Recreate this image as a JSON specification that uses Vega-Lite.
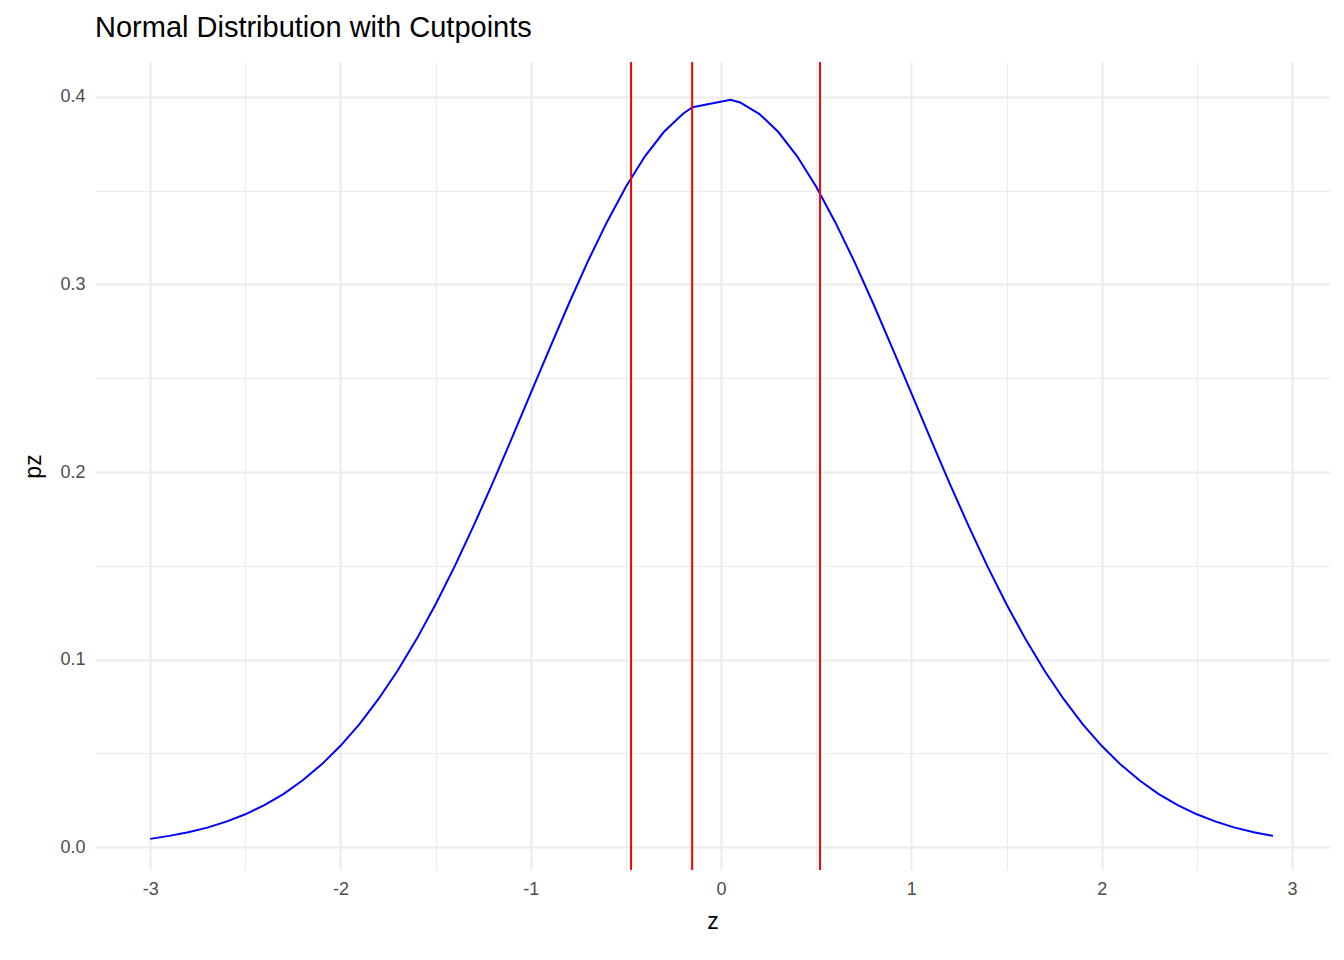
{
  "$schema": "https://vega.github.io/schema/vega-lite/v6.json",
  "autosize": "none",
  "padding": {"left": 95, "top": 62, "right": 14, "bottom": 90},
  "width": 1235,
  "height": 808,
  "title": {"text": "Normal Distribution with Cutpoints", "anchor": "start", "frame": "group", "fontSize": 29, "fontWeight": "normal", "font": "Liberation Sans", "color": "black", "offset": 18},
  "datasets": {
    "curve": [
      {"z": -3.0, "pz": 0.0044}, {"z": -2.9, "pz": 0.0060}, {"z": -2.8, "pz": 0.0079}, {"z": -2.7, "pz": 0.0104},
      {"z": -2.6, "pz": 0.0136}, {"z": -2.5, "pz": 0.0175}, {"z": -2.4, "pz": 0.0224}, {"z": -2.3, "pz": 0.0283},
      {"z": -2.2, "pz": 0.0355}, {"z": -2.1, "pz": 0.0440}, {"z": -2.0, "pz": 0.0540}, {"z": -1.9, "pz": 0.0656},
      {"z": -1.8, "pz": 0.0790}, {"z": -1.7, "pz": 0.0940}, {"z": -1.6, "pz": 0.1109}, {"z": -1.5, "pz": 0.1295},
      {"z": -1.4, "pz": 0.1497}, {"z": -1.3, "pz": 0.1714}, {"z": -1.2, "pz": 0.1942}, {"z": -1.1, "pz": 0.2179},
      {"z": -1.0, "pz": 0.2420}, {"z": -0.9, "pz": 0.2661}, {"z": -0.8, "pz": 0.2897}, {"z": -0.7, "pz": 0.3123},
      {"z": -0.6, "pz": 0.3332}, {"z": -0.5, "pz": 0.3521}, {"z": -0.4, "pz": 0.3683}, {"z": -0.3, "pz": 0.3814},
      {"z": -0.2, "pz": 0.3910}, {"z": -0.15, "pz": 0.3945}, {"z": 0.05, "pz": 0.3984}, {"z": 0.1, "pz": 0.3970},
      {"z": 0.2, "pz": 0.3910}, {"z": 0.3, "pz": 0.3814}, {"z": 0.4, "pz": 0.3683}, {"z": 0.5, "pz": 0.3521},
      {"z": 0.6, "pz": 0.3332}, {"z": 0.7, "pz": 0.3123}, {"z": 0.8, "pz": 0.2897}, {"z": 0.9, "pz": 0.2661},
      {"z": 1.0, "pz": 0.2420}, {"z": 1.1, "pz": 0.2179}, {"z": 1.2, "pz": 0.1942}, {"z": 1.3, "pz": 0.1714},
      {"z": 1.4, "pz": 0.1497}, {"z": 1.5, "pz": 0.1295}, {"z": 1.6, "pz": 0.1109}, {"z": 1.7, "pz": 0.0940},
      {"z": 1.8, "pz": 0.0790}, {"z": 1.9, "pz": 0.0656}, {"z": 2.0, "pz": 0.0540}, {"z": 2.1, "pz": 0.0440},
      {"z": 2.2, "pz": 0.0355}, {"z": 2.3, "pz": 0.0283}, {"z": 2.4, "pz": 0.0224}, {"z": 2.5, "pz": 0.0175},
      {"z": 2.6, "pz": 0.0136}, {"z": 2.7, "pz": 0.0104}, {"z": 2.8, "pz": 0.0079}, {"z": 2.9, "pz": 0.0060}
    ],
    "cuts": [{"cut": -0.473}, {"cut": -0.152}, {"cut": 0.52}]
  },
  "layer": [
    {
      "data": {"name": "curve"},
      "mark": {"type": "line", "color": "blue", "strokeWidth": 2},
      "encoding": {
        "x": {"field": "z", "type": "quantitative", "title": "z",
          "scale": {"domain": [-3.29, 3.2], "nice": false, "zero": false},
          "axis": {"values": [-3, -2.5, -2, -1.5, -1, -0.5, 0, 0.5, 1, 1.5, 2, 2.5, 3],
            "labelExpr": "datum.value % 1 == 0 ? toString(datum.value) : ''",
            "gridWidth": {"expr": "datum.value % 1 == 0 ? 2 : 1"}}},
        "y": {"field": "pz", "type": "quantitative", "title": "pz",
          "scale": {"domain": [-0.0122, 0.4186], "nice": false, "zero": false},
          "axis": {"values": [0, 0.05, 0.1, 0.15, 0.2, 0.25, 0.3, 0.35, 0.4],
            "labelExpr": "abs(datum.value * 10 - round(datum.value * 10)) < 0.01 ? format(datum.value, '.1f') : ''",
            "gridWidth": {"expr": "abs(datum.value * 10 - round(datum.value * 10)) < 0.01 ? 2 : 1"}}}
      }
    },
    {
      "data": {"name": "cuts"},
      "mark": {"type": "rule", "color": "red", "strokeWidth": 2},
      "encoding": {"x": {"field": "cut", "type": "quantitative"}}
    }
  ],
  "config": {
    "view": {"stroke": null},
    "font": "Liberation Sans",
    "axis": {"domain": false, "ticks": false, "gridColor": "#EBEBEB", "labelFontSize": 18, "labelColor": "#4D4D4D",
      "labelPadding": 10, "titleFontSize": 23, "titleFontWeight": "normal", "titleColor": "black", "labelFont": "Liberation Sans", "titleFont": "Liberation Sans"},
    "axisX": {"titlePadding": 12},
    "axisY": {"titlePadding": 14}
  }
}
